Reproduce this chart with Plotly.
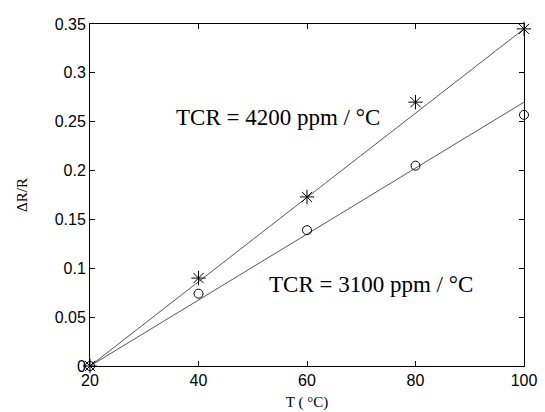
import plotly.graph_objects as go

temps = [20, 40, 60, 80, 100]
dr_4200 = [0.0, 0.090, 0.173, 0.270, 0.345]
dr_3100 = [0.0, 0.074, 0.139, 0.205, 0.257]
fit_x = [20, 100]
fit_4200 = [0.0, 0.345]
fit_3100 = [0.0, 0.270]

fig = go.Figure()
fig.add_trace(go.Scatter(x=fit_x, y=fit_4200, mode="lines",
                         line=dict(color="#555555", width=1), showlegend=False))
fig.add_trace(go.Scatter(x=fit_x, y=fit_3100, mode="lines",
                         line=dict(color="#555555", width=1), showlegend=False))
fig.add_trace(go.Scatter(x=temps, y=dr_4200, mode="markers", cliponaxis=False,
                         marker=dict(symbol="asterisk-open", size=12, color="black",
                                     line=dict(color="black", width=1)),
                         showlegend=False))
fig.add_trace(go.Scatter(x=temps, y=dr_3100, mode="markers", cliponaxis=False,
                         marker=dict(symbol="circle-open", size=9, color="black",
                                     line=dict(color="black", width=1)),
                         showlegend=False))

fig.add_annotation(x=54.65, y=0.2548, xref="x", yref="y",
                   text="TCR = 4200 ppm / °C", showarrow=False,
                   font=dict(family="Liberation Serif", size=23, color="black"))
fig.add_annotation(x=71.8, y=0.0839, xref="x", yref="y",
                   text="TCR = 3100 ppm / °C", showarrow=False,
                   font=dict(family="Liberation Serif", size=23, color="black"))

axis_common = dict(showgrid=False, zeroline=False, showline=True, linecolor="black",
                   linewidth=1, mirror="ticks", ticks="inside", ticklen=5,
                   tickcolor="black", automargin=False,
                   tickfont=dict(family="Liberation Sans", size=16, color="black"))
fig.update_xaxes(range=[20, 100], tickvals=[20, 40, 60, 80, 100],
                 title=dict(text="T ( °C)", font=dict(family="Liberation Serif", size=15,
                                                        color="black"), standoff=8),
                 **axis_common)
fig.update_yaxes(range=[0, 0.35], tickvals=[0, 0.05, 0.1, 0.15, 0.2, 0.25, 0.3, 0.35],
                 ticktext=["0", "0.05", "0.1", "0.15", "0.2", "0.25", "0.3", "0.35"],
                 title=dict(text="ΔR/R", font=dict(family="Liberation Serif", size=15,
                                                     color="black"), standoff=23),
                 **axis_common)
fig.update_layout(width=545, height=412, margin=dict(l=90, r=21, t=24, b=46),
                  plot_bgcolor="white", paper_bgcolor="white")
fig.write_html("out.html", config={"displayModeBar": False},
               post_script="document.body.style.margin='0';document.body.style.overflow='hidden';")
